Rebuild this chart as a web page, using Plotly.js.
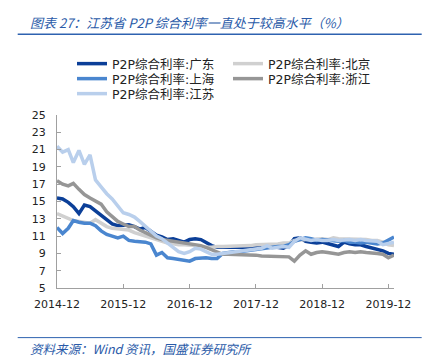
<!DOCTYPE html>
<html>
<head>
<meta charset="utf-8">
<script src="https://cdn.plot.ly/plotly-3.0.1.min.js"></script>
<style>html,body{margin:0;padding:0;background:#fff;}#chart{width:426px;height:362px;}</style>
</head>
<body>
<div id="chart"></div>
<script>
// Monthly dates 2014-12 .. 2020-01
const months = ["2014-12","2015-01","2015-02","2015-03","2015-04","2015-05","2015-06","2015-07","2015-08","2015-09","2015-10","2015-11",
"2015-12","2016-01","2016-02","2016-03","2016-04","2016-05","2016-06","2016-07","2016-08","2016-09","2016-10","2016-11",
"2016-12","2017-01","2017-02","2017-03","2017-04","2017-05","2017-06","2017-07","2017-08","2017-09","2017-10","2017-11",
"2017-12","2018-01","2018-02","2018-03","2018-04","2018-05","2018-06","2018-07","2018-08","2018-09","2018-10","2018-11",
"2018-12","2019-01","2019-02","2019-03","2019-04","2019-05","2019-06","2019-07","2019-08","2019-09","2019-10","2019-11",
"2019-12","2020-01"];

const guangdong = [15.4,15.3,14.9,14.4,13.6,14.6,14.4,13.9,13.4,12.8,12.4,12.2,
12.2,12.3,12.1,11.8,12.0,11.5,11.1,10.9,10.6,10.7,10.5,10.3,
10.6,10.7,10.6,10.3,9.9,9.7,9.7,9.7,9.6,9.7,9.6,9.7,
9.7,9.6,9.7,9.8,9.7,9.6,9.9,10.7,10.8,10.4,10.3,10.2,
10.3,10.1,9.9,9.8,10.3,10.1,10.0,10.0,9.8,9.6,9.5,9.3,
9.0,8.9];

const beijing = [13.6,13.3,13.0,12.8,12.7,12.6,12.5,12.9,12.5,12.1,11.9,11.8,
11.8,11.7,11.4,11.2,11.0,10.8,10.6,10.4,10.2,10.1,10.0,10.0,
10.0,9.9,9.8,9.7,9.7,9.8,9.8,9.8,9.9,9.9,9.9,9.9,
10.0,10.0,10.1,10.0,10.1,10.2,10.2,10.5,10.6,10.6,10.6,10.7,
10.7,10.6,10.8,10.7,10.7,10.6,10.7,10.6,10.6,10.5,10.5,10.3,
10.0,9.9];

const shanghai = [12.0,11.3,11.9,12.8,12.6,12.5,12.5,12.2,11.6,11.2,11.0,10.8,
11.0,10.5,10.4,10.4,10.3,10.1,8.8,9.1,8.5,8.4,8.3,8.2,
8.1,8.4,8.5,8.5,8.4,8.4,9.0,9.1,9.2,9.2,9.3,9.4,
9.5,9.6,9.7,9.7,9.8,9.8,10.0,10.4,10.6,10.8,10.7,10.5,
10.6,10.5,10.4,10.4,10.5,10.3,10.3,10.2,10.3,10.2,10.1,10.2,
10.6,10.9];

const zhejiang = [17.4,17.0,16.8,17.1,16.4,15.8,15.4,15.1,14.7,13.8,13.2,12.7,
12.4,12.1,12.1,11.7,11.4,11.1,10.8,10.6,10.5,10.4,10.3,10.2,
10.1,10.0,9.9,9.7,9.4,9.1,8.9,8.9,8.9,8.9,8.8,8.8,
8.8,8.7,8.7,8.7,8.7,8.6,8.6,8.1,8.8,9.3,8.9,9.1,
9.2,9.1,9.0,8.9,9.1,9.2,9.1,9.2,9.1,9.1,9.0,8.9,
8.5,8.8];

const jiangsu = [21.4,20.7,21.0,19.5,20.9,19.3,20.4,17.5,16.7,15.9,15.3,14.5,
13.7,13.5,13.2,12.7,12.1,11.6,11.0,10.7,10.2,9.7,9.2,9.0,
9.2,9.6,9.5,9.2,8.9,8.9,9.0,9.1,9.1,9.2,9.3,9.4,
9.5,9.6,9.9,9.6,9.7,9.8,9.7,10.4,10.8,10.6,10.5,10.6,
10.5,10.5,10.6,10.5,10.6,10.6,10.5,10.6,10.5,10.5,10.4,10.0,
10.1,10.3];

const seriesNames = ["P2P综合利率:广东","P2P综合利率:北京","P2P综合利率:上海","P2P综合利率:浙江","P2P综合利率:江苏"];
const seriesData = [guangdong, beijing, shanghai, zhejiang, jiangsu];
const seriesColors = ["#0b3f98","#d0d0d0","#4a86cf","#969696","#b9cfec"];
const seriesLegend = ["legend","legend","legend2","legend2","legend3"];

const yTickVals = [5,7,9,11,13,15,17,19,21,23,25];
const xTickVals = ["2014-12-01","2015-12-01","2016-12-01","2017-12-01","2018-12-01","2019-12-01"];
const xTickText = ["2014-12","2015-12","2016-12","2017-12","2018-12","2019-12"];

const traces = seriesData.map((d, i) => ({
  x: months.map(m => m + "-01"),
  y: d,
  type: "scatter",
  mode: "lines",
  name: seriesNames[i],
  legend: seriesLegend[i],
  line: {color: seriesColors[i], width: 3.5},
  hoverinfo: "skip"
}));

const W = 426, H = 362;
const L = 57.3, R = 394.3, T = 115, B = 288.3;
const px2x = p => (p - L) / (R - L);
const px2y = p => (B - p) / (B - T);

const fontMain = "DejaVu Sans, Noto Sans CJK SC, sans-serif";
const legFont = {family: fontMain, size: 12.5, color: "#222"};
const legCommon = {orientation: "h", xref: "container", yref: "container", xanchor: "left", yanchor: "middle",
  font: legFont, bgcolor: "rgba(0,0,0,0)", borderwidth: 0, entrywidth: 111, entrywidthmode: "pixels", itemwidth: 30, tracegroupgap: 0};

const layout = {
  width: W, height: H,
  paper_bgcolor: "#fff", plot_bgcolor: "#fff",
  margin: {l: L, r: W - R, t: T, b: H - B, pad: 0},
  showlegend: true,
  legend: Object.assign({}, legCommon, {x: 72 / W, y: 1 - 64 / H}),
  legend2: Object.assign({}, legCommon, {x: 72 / W, y: 1 - 79 / H}),
  legend3: Object.assign({}, legCommon, {x: 72 / W, y: 1 - 94 / H}),
  xaxis: {
    type: "date",
    range: ["2014-12-01", "2020-01-01"],
    tickvals: xTickVals, ticktext: xTickText,
    ticks: "inside", ticklen: 4, tickcolor: "#a0a0a0", tickwidth: 1,
    showline: true, linecolor: "#a0a0a0", linewidth: 1,
    showgrid: false, zeroline: false,
    tickfont: {family: fontMain, size: 11, color: "#222"},
    ticklabelstandoff: 6
  },
  yaxis: {
    range: [5, 25],
    tickvals: yTickVals,
    ticks: "inside", ticklen: 4, tickcolor: "#a0a0a0", tickwidth: 1,
    showline: true, linecolor: "#a0a0a0", linewidth: 1,
    showgrid: false, zeroline: false,
    tickfont: {family: fontMain, size: 11, color: "#222"},
    ticklabelstandoff: 8
  },
  shapes: [
    {type: "line", xref: "paper", yref: "paper", x0: px2x(18), x1: px2x(422), y0: px2y(34), y1: px2y(34), line: {color: "#2e62b0", width: 1.5}},
    {type: "line", xref: "paper", yref: "paper", x0: px2x(18), x1: px2x(422), y0: px2y(338), y1: px2y(338), line: {color: "#2e62b0", width: 1}}
  ],
  annotations: [
    {text: "<i>图表 27：江苏省 P2P 综合利率一直处于较高水平（%）</i>", xref: "paper", yref: "paper", x: px2x(28), y: px2y(22),
     xanchor: "left", yanchor: "middle", showarrow: false, font: {family: "Noto Sans CJK SC, DejaVu Sans", size: 13, color: "#2a5aa8"}},
    {text: "<i>资料来源：Wind 资讯，国盛证券研究所</i>", xref: "paper", yref: "paper", x: px2x(28), y: px2y(349),
     xanchor: "left", yanchor: "middle", showarrow: false, font: {family: "Noto Sans CJK SC, DejaVu Sans", size: 12.5, color: "#2a5aa8"}}
  ]
};

Plotly.newPlot("chart", traces, layout, {staticPlot: true, displayModeBar: false});
</script>
</body>
</html>
